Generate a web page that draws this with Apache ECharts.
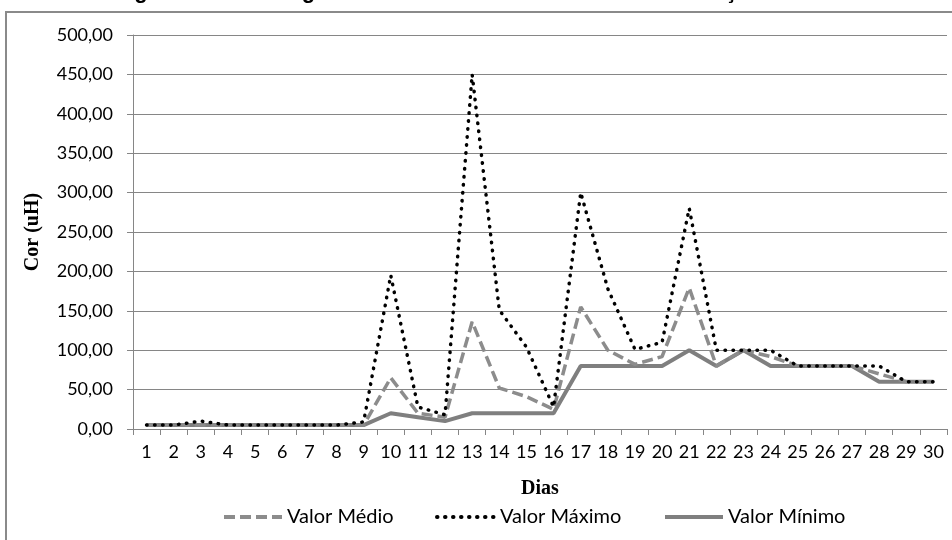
<!DOCTYPE html>
<html><head><meta charset="utf-8">
<script src="https://cdn.jsdelivr.net/npm/echarts@6/dist/echarts.min.js"></script>
<style>html,body{margin:0;padding:0;background:#fff}#c{width:952px;height:540px}</style>
</head><body><div id="c"></div>
<script>
var dias = ['1','2','3','4','5','6','7','8','9','10','11','12','13','14','15','16','17','18','19','20','21','22','23','24','25','26','27','28','29','30'];
var valorMedio  = [5,5,5,5,5,5,5,5,5,65,20,15,136,52,41,25,155,100,82,92,179,80,100,92,80,80,80,70,60,60];
var valorMaximo = [5,5,10,5,5,5,5,5,9,195,28,18,450,151,104,28,300,178,101,110,280,100,100,100,80,80,80,80,60,60];
var valorMinimo = [5,5,5,5,5,5,5,5,5,20,15,10,20,20,20,20,80,80,80,80,100,80,100,80,80,80,80,60,60,60];
var seriesNames = ['Valor Médio','Valor Máximo','Valor Mínimo'];

var chart = echarts.init(document.getElementById('c'));
var legendText = {fontFamily:'Lato', fontSize:20, color:'#000'};
function mkLegend(name, left){
  return {data:[name], left:left, top:502, itemWidth:58, itemHeight:14, textStyle:legendText,
    itemStyle:{opacity:0}, lineStyle:{width:4}, selectedMode:false};
}
chart.setOption({
  animation:false,
  title:{text:'Figura 5: Cor da água tratada – Tratamento do mês de março de 2009', left:'center', top:-24,
    textStyle:{fontFamily:'Liberation Sans', fontWeight:'bold', fontSize:22, color:'#000'}},
  graphic:[{type:'rect', shape:{x:6, y:12, width:960, height:560}, style:{fill:'none', stroke:'#8a8a8a', lineWidth:2}, silent:true}],
  grid:{left:133, right:5, top:35, bottom:111, containLabel:false},
  legend:[mkLegend(seriesNames[0],217), mkLegend(seriesNames[1],430), mkLegend(seriesNames[2],658)],
  xAxis:{type:'category', data:dias, boundaryGap:true,
    name:'Dias', nameLocation:'middle', nameGap:50,
    nameTextStyle:{fontFamily:'Liberation Serif', fontWeight:'bold', fontSize:20, color:'#000'},
    axisLine:{lineStyle:{color:'#868686', width:1}},
    axisTick:{show:true, alignWithLabel:false, length:6, lineStyle:{color:'#868686'}},
    axisLabel:{fontFamily:'Lato', fontSize:18, color:'#000', interval:0, margin:14}},
  yAxis:{type:'value', min:0, max:500, interval:50,
    name:'Cor (uH)', nameLocation:'middle', nameGap:90, nameRotate:90,
    nameTextStyle:{fontFamily:'Liberation Serif', fontWeight:'bold', fontSize:20, color:'#000'},
    axisLine:{show:true, lineStyle:{color:'#868686', width:1}},
    axisTick:{show:true, length:6, lineStyle:{color:'#868686'}},
    splitLine:{lineStyle:{color:'#868686', width:1}},
    axisLabel:{fontFamily:'Lato', fontSize:18, color:'#000', margin:20,
      formatter:function(v){return v.toFixed(2).replace('.',',');}}},
  series:[
    {name:seriesNames[0], type:'line', data:valorMedio, symbol:'none', z:3,
      lineStyle:{color:'#8c8c8c', width:3.5, type:[11,5]}, itemStyle:{color:'#8c8c8c'}},
    {name:seriesNames[1], type:'line', data:valorMaximo, symbol:'none', z:4,
      lineStyle:{color:'#000', width:3.5, type:[0.5,7.5], cap:'round'}, itemStyle:{color:'#000'}},
    {name:seriesNames[2], type:'line', data:valorMinimo, symbol:'none', z:2,
      lineStyle:{color:'#7f7f7f', width:4}, itemStyle:{color:'#7f7f7f'}}
  ]
});
</script></body></html>
